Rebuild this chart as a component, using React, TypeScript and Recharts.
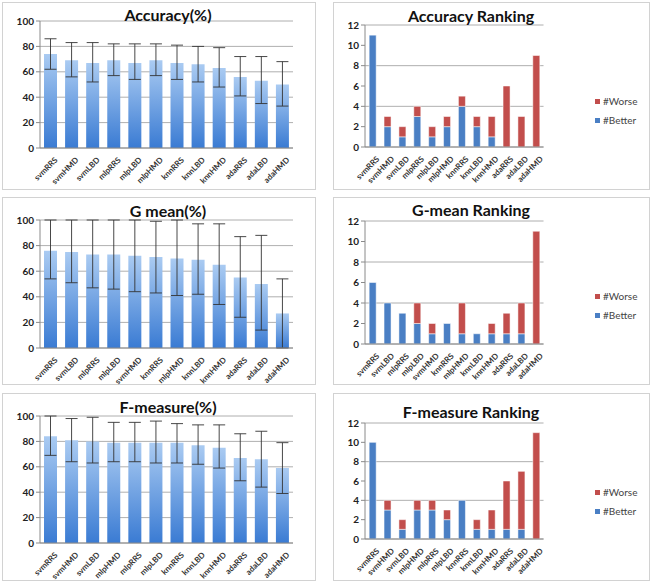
import { Bar, BarChart, CartesianGrid, ErrorBar, Legend, XAxis, YAxis } from 'recharts';

// category orders (each metric sorted by its mean)
const ACC_CATS = ['svmRRS', 'svmHMD', 'svmLBD', 'mlpRRS', 'mlpLBD', 'mlpHMD', 'knnRRS', 'knnLBD', 'knnHMD', 'adaRRS', 'adaLBD', 'adaHMD'];
const GM_CATS = ['svmRRS', 'svmLBD', 'mlpRRS', 'mlpLBD', 'svmHMD', 'knnRRS', 'mlpHMD', 'knnLBD', 'knnHMD', 'adaRRS', 'adaLBD', 'adaHMD'];
const FM_CATS = ['svmRRS', 'svmHMD', 'svmLBD', 'mlpHMD', 'mlpRRS', 'mlpLBD', 'knnRRS', 'knnLBD', 'knnHMD', 'adaRRS', 'adaLBD', 'adaHMD'];

// mean values and error bar ends (%)
const ACC_MEAN = [74, 69, 67, 69, 67, 69, 67, 66, 63, 56, 53, 50];
const ACC_LOW = [62, 56, 52, 57, 54, 57, 54, 52, 48, 41, 35, 33];
const ACC_HIGH = [86, 83, 83, 82, 82, 82, 81, 80, 79, 72, 72, 68];

const GM_MEAN = [76, 75, 73, 73, 72, 71, 70, 69, 65, 55, 50, 27];
const GM_LOW = [54, 51, 47, 46, 44, 43, 41, 42, 34, 24, 14, 0];
const GM_HIGH = [100, 100, 100, 100, 100, 99, 100, 97, 97, 87, 88, 54];

const FM_MEAN = [84, 81, 80, 79, 79, 79, 79, 77, 75, 67, 66, 59];
const FM_LOW = [69, 64, 63, 64, 64, 63, 63, 62, 59, 49, 44, 39];
const FM_HIGH = [100, 98, 99, 95, 95, 96, 94, 93, 93, 86, 88, 79];

// ranking counts
const ACC_BETTER = [11, 2, 1, 3, 1, 2, 4, 2, 1, 0, 0, 0];
const ACC_WORSE = [0, 1, 1, 1, 1, 1, 1, 1, 2, 6, 3, 9];
const GM_BETTER = [6, 4, 3, 2, 1, 2, 1, 1, 1, 1, 1, 0];
const GM_WORSE = [0, 0, 0, 2, 1, 0, 3, 0, 1, 2, 3, 11];
const FM_BETTER = [10, 3, 1, 3, 3, 2, 4, 1, 1, 1, 1, 0];
const FM_WORSE = [0, 1, 1, 1, 1, 1, 0, 1, 2, 5, 6, 11];

const PCT_TICKS = [0, 20, 40, 60, 80, 100];
const RANK_TICKS = [0, 2, 4, 6, 8, 10, 12];

const FONT = 'Lato, "Open Sans", sans-serif';
const BLUE = '#4a7fc4';
const RED = '#c24e4c';

const XTick = ({ x, y, payload }: any) => (
  <g transform={`translate(${x + 4},${y + 1})`}>
    <text transform="rotate(-45)" textAnchor="end" dy={5} fontSize={8} fontWeight="bold" fill="#333" fontFamily={FONT}>
      {payload.value}
    </text>
  </g>
);

const yTickStyle = { fontSize: 10, fontWeight: 'bold', fill: '#222', fontFamily: FONT } as const;

function Panel({ left, top, width, height, title, titleX, titleY, children }: any) {
  return (
    <div style={{ position: 'absolute', left, top, width, height, background: '#fff', outline: '1px solid #d2d2d2', outlineOffset: -1 }}>
      {children}
      <div
        style={{
          position: 'absolute',
          left: titleX - 100,
          top: titleY - 11,
          width: 200,
          textAlign: 'center',
          fontFamily: FONT,
          fontWeight: 'bold',
          fontSize: 16,
          lineHeight: '22px',
          color: '#111',
        }}
      >
        {title}
      </div>
    </div>
  );
}

function MeanChart({ id, cats, mean, low, high, width, height, plotTop, plotBottom }: any) {
  const data = cats.map((c: string, i: number) => ({
    name: c,
    value: mean[i],
    err: [mean[i] - low[i], high[i] - mean[i]],
  }));
  return (
    <BarChart width={width} height={height} data={data} margin={{ top: plotTop, right: 23, bottom: 0, left: 0 }} barCategoryGap="19%">
      <defs>
        <linearGradient id={id} x1="0" y1="0" x2="0" y2="1">
          <stop offset="0%" stopColor="#aacbf2" />
          <stop offset="100%" stopColor="#3a7bd3" />
        </linearGradient>
      </defs>
      <CartesianGrid vertical={false} stroke="#9a9a9a" strokeWidth={0.8} />
      <XAxis dataKey="name" interval={0} height={height - plotBottom} tick={<XTick />} tickLine={false} stroke="#8a8a8a" />
      <YAxis domain={[0, 100]} ticks={PCT_TICKS} width={38} tick={yTickStyle} tickSize={4} stroke="#8a8a8a" allowDataOverflow />
      <Bar dataKey="value" fill={`url(#${id})`} isAnimationActive={false}>
        <ErrorBar dataKey="err" width={6} stroke="#333" strokeWidth={0.9} />
      </Bar>
    </BarChart>
  );
}

const RankLegend = () => (
  <div style={{ fontFamily: FONT, fontSize: 10, color: '#444', lineHeight: '19px' }}>
    {[
      { label: '#Worse', color: RED },
      { label: '#Better', color: BLUE },
    ].map((it) => (
      <div key={it.label} style={{ display: 'flex', alignItems: 'center' }}>
        <span style={{ display: 'inline-block', width: 5, height: 5, background: it.color, marginRight: 3 }} />
        {it.label}
      </div>
    ))}
  </div>
);

function RankChart({ cats, better, worse, width, height, plotTop, plotBottom }: any) {
  const data = cats.map((c: string, i: number) => ({ name: c, better: better[i], worse: worse[i] }));
  return (
    <BarChart width={width} height={height} data={data} margin={{ top: plotTop, right: 64, bottom: 0, left: 0 }} barCategoryGap="28%">
      <CartesianGrid vertical={false} stroke="#9a9a9a" strokeWidth={0.8} />
      <XAxis dataKey="name" interval={0} height={height - plotBottom} tick={<XTick />} tickLine={false} stroke="#8a8a8a" />
      <YAxis domain={[0, 12]} ticks={RANK_TICKS} width={32} tick={yTickStyle} tickSize={4} stroke="#8a8a8a" />
      <Legend layout="vertical" align="right" verticalAlign="middle" content={<RankLegend />} wrapperStyle={{ left: 262, top: 90, right: 'auto', width: 'auto' }} />
      <Bar dataKey="better" stackId="a" fill={BLUE} stroke="#fff" strokeWidth={0.5} isAnimationActive={false} />
      <Bar dataKey="worse" stackId="a" fill={RED} stroke="#fff" strokeWidth={0.5} isAnimationActive={false} />
    </BarChart>
  );
}

export default function App() {
  return (
    <div style={{ position: 'absolute', left: 0, top: 0, width: 652, height: 582, background: '#fff' }}>
      <Panel left={2} top={2} width={314} height={188} title="Accuracy(%)" titleX={166} titleY={13}>
        <MeanChart id="gAcc" cats={ACC_CATS} mean={ACC_MEAN} low={ACC_LOW} high={ACC_HIGH} width={314} height={188} plotTop={19} plotBottom={146} />
      </Panel>
      <Panel left={333} top={2} width={317} height={188} title="Accuracy Ranking" titleX={138} titleY={14}>
        <RankChart cats={ACC_CATS} better={ACC_BETTER} worse={ACC_WORSE} width={317} height={188} plotTop={23} plotBottom={145} />
      </Panel>
      <Panel left={2} top={197} width={314} height={188} title="G mean(%)" titleX={166} titleY={14}>
        <MeanChart id="gGm" cats={GM_CATS} mean={GM_MEAN} low={GM_LOW} high={GM_HIGH} width={314} height={188} plotTop={23} plotBottom={151} />
      </Panel>
      <Panel left={333} top={197} width={317} height={188} title="G-mean Ranking" titleX={138} titleY={13}>
        <RankChart cats={GM_CATS} better={GM_BETTER} worse={GM_WORSE} width={317} height={188} plotTop={24} plotBottom={147} />
      </Panel>
      <Panel left={2} top={393} width={314} height={188} title="F-measure(%)" titleX={166} titleY={14}>
        <MeanChart id="gFm" cats={FM_CATS} mean={FM_MEAN} low={FM_LOW} high={FM_HIGH} width={314} height={188} plotTop={23} plotBottom={150} />
      </Panel>
      <Panel left={333} top={393} width={317} height={188} title="F-measure Ranking" titleX={138} titleY={19}>
        <RankChart cats={FM_CATS} better={FM_BETTER} worse={FM_WORSE} width={317} height={188} plotTop={30} plotBottom={146} />
      </Panel>
    </div>
  );
}
